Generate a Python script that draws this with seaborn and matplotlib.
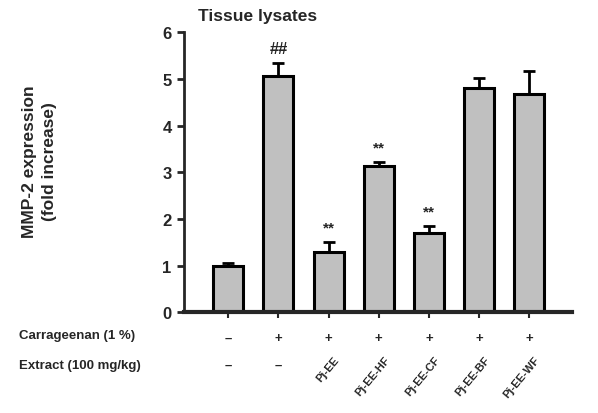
import numpy as np
import pandas as pd
import seaborn as sns
import matplotlib.pyplot as plt
import matplotlib.transforms as mtransforms

sns.set_style("ticks")
plt.rcParams['font.family'] = ['Liberation Sans', 'DejaVu Sans']

# data
groups = ["Control", "Carr", "Pj-EE", "Pj-EE-HF", "Pj-EE-CF", "Pj-EE-BF", "Pj-EE-WF"]
mmp2 = [0.99, 5.06, 1.30, 3.14, 1.71, 4.80, 4.67]
sem = [0.07, 0.28, 0.21, 0.09, 0.15, 0.22, 0.50]
carrageenan = ["–", "+", "+", "+", "+", "+", "+"]
extract = ["–", "–", "Pj-EE", "Pj-EE-HF", "Pj-EE-CF", "Pj-EE-BF", "Pj-EE-WF"]
marks = ["", "##", "**", "**", "**", "", ""]

df = pd.DataFrame({"group": groups, "mmp2": mmp2})

fig = plt.figure(figsize=(5.98, 4.14), dpi=100)
ax = fig.add_axes([0.308, 0.243, 0.649, 0.677])

sns.barplot(data=df, x="group", y="mmp2", color="#c0c0c0", edgecolor="black",
            linewidth=2.2, width=0.6, errorbar=None, saturation=1, ax=ax)
x = np.arange(len(groups))
ax.errorbar(x, mmp2, yerr=[np.zeros(len(sem)), sem], fmt="none", ecolor="black",
            elinewidth=2, capsize=4.3, capthick=2, zorder=1)

for xi, v, s, m in zip(x, mmp2, sem, marks):
    if m:
        ax.text(xi, v + s + 0.15, m, ha="center", va="bottom",
                fontsize=12 if m == "##" else 11, fontweight="bold")

ax.set_xlim(-0.88, 6.86)
ax.set_ylim(0, 6)
ax.set_yticks(range(7))
ax.set_yticklabels([str(t) for t in range(7)], fontsize=12, fontweight="bold")
ax.set_xticks(x)
ax.set_xticklabels(carrageenan, fontsize=9.5, fontweight="bold")
ax.tick_params(axis="x", length=4, width=1.5, pad=10)
ax.tick_params(axis="y", length=5, width=2, pad=4)
ax.set_xlabel("")
ax.set_ylabel("")
sns.despine(ax=ax)
ax.spines["left"].set_linewidth(2)
ax.spines["bottom"].set_linewidth(3)

ax.set_title("Tissue lysates", loc="left", fontsize=12.5, fontweight="bold", pad=9,
             x=0.035)

fig.text(0.066, 0.609, "MMP-2 expression\n(fold increase)", rotation=90,
         ha="center", va="center", fontsize=12.5, fontweight="bold",
         linespacing=1.4)

trans = mtransforms.blended_transform_factory(ax.transData, fig.transFigure)
fig.text(0.032, 1 - 336 / 414, "Carrageenan (1 %)", ha="left", va="center",
         fontsize=9.5, fontweight="bold")
fig.text(0.032, 1 - 366 / 414, "Extract (100 mg/kg)", ha="left", va="center",
         fontsize=9.5, fontweight="bold")
for xi, lab in zip(x, extract):
    if lab == "–":
        ax.text(xi, 1 - 366 / 414, lab, transform=trans, ha="center",
                va="center", fontsize=9.5, fontweight="bold")
    else:
        ax.text(xi + 0.1, 1 - 355 / 414, lab, transform=trans, ha="right",
                va="top", rotation=50, rotation_mode="anchor",
                fontsize=8, fontweight="bold")

fig.savefig("out.png", dpi=100)
